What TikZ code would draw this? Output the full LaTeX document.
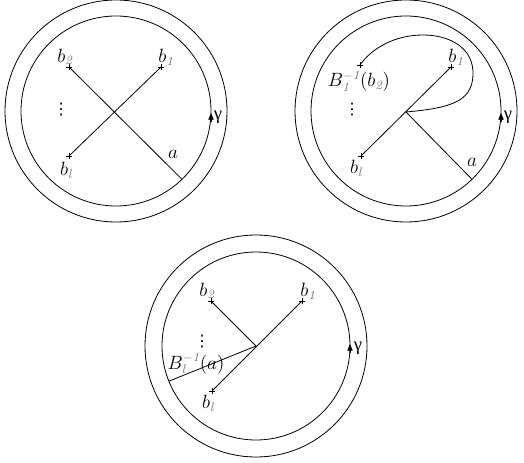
\documentclass[tikz,border=0pt]{standalone}
\usepackage{fontspec}
\usetikzlibrary{arrows.meta,calc}
\newfontfamily\gfont{Liberation Serif}
\newfontfamily\dfont{DejaVu Sans}
\newcommand\gsub[1]{\textcolor{black!55}{\mathit{#1}}}
\begin{document}
\begin{tikzpicture}[x=0.75pt,y=-0.75pt,
  ring/.style={line width=0.6pt},
  edge/.style={line width=0.6pt},
  lbl/.style={inner sep=0pt,font=\fontsize{13.5}{15}\selectfont},
  dts/.style={inner sep=0pt,font=\fontsize{12}{14}\selectfont\dfont},
  gam/.style={inner sep=0pt,font=\fontsize{14}{16}\selectfont\gfont},
  plusmark/.pic={\draw[line width=0.5pt] (-3,0)--(3,0) (0,-3)--(0,3);},
  gtip/.style={line width=0.6pt,-{Triangle[length=5pt,width=4pt]}}]
\useasboundingbox (0,0) rectangle (524,463);
% ---------- diagram 1 ----------
\coordinate (c1) at (116,111);
\draw[ring] (c1) circle (111);
\draw[ring] (c1) circle (95);
\coordinate (p1b2) at (69,67);
\coordinate (p1b1) at (161,67);
\coordinate (p1bl) at (69,156);
\coordinate (p1a) at ($(c1)+(46:95)$);
\draw[edge] (p1b1) -- (p1bl);
\draw[edge] (p1b2) -- (p1a);
\pic at (p1b2) {plusmark};
\pic at (p1b1) {plusmark};
\pic at (p1bl) {plusmark};
\node[lbl] (l1b2) at (65,57) {$b_{\gsub{2}}$};
\node[lbl] (l1b1) at (166,57) {$b_{\gsub{1}}$};
\node[lbl] (l1bl) at (66,170) {$b_{\gsub{l}}$};
\node[lbl] (l1a) at (173,154) {$a$};
\node[dts] (l1d) at (61,110) {⋮};
\coordinate (g1s) at (211,122);
\coordinate (g1e) at (211,113);
\draw[gtip] (g1s) -- (g1e);
\node[gam] (l1g) at (218,117) {γ};
% ---------- diagram 2 ----------
\coordinate (c2) at (406,111);
\draw[ring] (c2) circle (111);
\draw[ring] (c2) circle (95);
\coordinate (p2b1) at (451,67);
\coordinate (p2bl) at (361,156);
\coordinate (p2B) at (360,65);
\coordinate (p2j) at (406,112);
\coordinate (p2a) at ($(c2)+(46:95)$);
\draw[edge] (p2b1) -- (p2bl);
\draw[edge] (p2j) -- (p2a);
\draw[edge] (p2j) .. controls (450,108) and (472,102) .. (473,75)
  .. controls (474,48) and (450,35) .. (423,35)
  .. controls (395,35) and (372,48) .. (p2B);
\pic at (p2b1) {plusmark};
\pic at (p2bl) {plusmark};
\pic at (p2B) {plusmark};
\node[lbl] (l2b1) at (456,57) {$b_{\gsub{1}}$};
\node[lbl] (l2B) at (359,81) {$B_{\gsub{1}}^{\gsub{-1}}(b_{\gsub{2}})$};
\node[lbl] (l2bl) at (356,168) {$b_{\gsub{l}}$};
\node[lbl] (l2a) at (472,162) {$a$};
\node[dts] (l2d) at (352,110) {⋮};
\coordinate (g2s) at (501,122);
\coordinate (g2e) at (501,113);
\draw[gtip] (g2s) -- (g2e);
\node[gam] (l2g) at (508,117) {γ};
% ---------- diagram 3 ----------
\coordinate (c3) at (256,346);
\draw[ring] (c3) circle (111);
\draw[ring] (c3) circle (94);
\coordinate (p3b2) at (211,301);
\coordinate (p3b1) at (302,301);
\coordinate (p3bl) at (212,391);
\coordinate (p3j) at (256,346);
\coordinate (p3a) at ($(c3)+(158:94)$);
\draw[edge] (p3b1) -- (p3bl);
\draw[edge] (p3b2) -- (p3j);
\draw[edge] (p3j) -- (p3a);
\pic at (p3b2) {plusmark};
\pic at (p3b1) {plusmark};
\pic at (p3bl) {plusmark};
\node[lbl] (l3b2) at (207,291) {$b_{\gsub{2}}$};
\node[lbl] (l3b1) at (308,291) {$b_{\gsub{1}}$};
\node[lbl] (l3bl) at (208,403) {$b_{\gsub{l}}$};
\node[lbl] (l3B) at (196,364) {$B_{\gsub{l}}^{\gsub{-1}}(a)$};
\node[dts] (l3d) at (202,342) {⋮};
\coordinate (g3s) at (350,353);
\coordinate (g3e) at (350,344);
\draw[gtip] (g3s) -- (g3e);
\node[gam] (l3g) at (358,348) {γ};
\end{tikzpicture}
\end{document}
